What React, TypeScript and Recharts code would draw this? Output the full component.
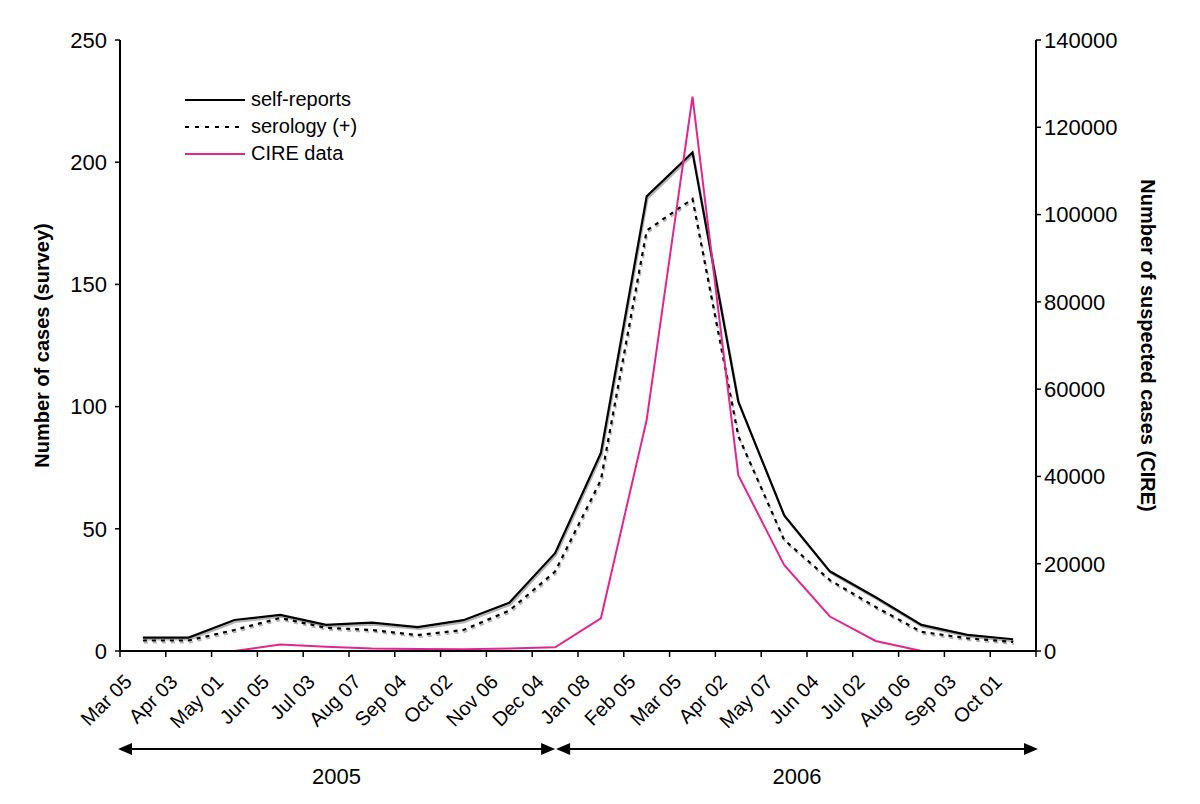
import { LineChart, Line, XAxis, YAxis, Legend } from "recharts";

const FONT = "'Liberation Sans', Arial, Helvetica, sans-serif";
const PINK = "#e3268f";
const SHADOW = "#b4b4b4";

// fortnight labels along the x axis (2005 -> 2006)
const months = [
  "Mar 05", "Apr 03", "May 01", "Jun 05", "Jul 03", "Aug 07", "Sep 04", "Oct 02", "Nov 06", "Dec 04",
  "Jan 08", "Feb 05", "Mar 05", "Apr 02", "May 07", "Jun 04", "Jul 02", "Aug 06", "Sep 03", "Oct 01",
];

// survey, left axis
const selfReports = [5.5, 5.5, 12.7, 14.8, 10.7, 11.6, 9.8, 12.6, 19.7, 40, 81, 186, 204, 102, 55.6, 32.6, 22, 10.7, 6.6, 4.8];
const serology = [4.3, 4.3, 8.6, 13.5, 9.5, 8.6, 6.5, 8.6, 16.5, 32.5, 70, 172, 185, 88, 45.5, 29, 18, 7.8, 5.2, 3.7];

// CIRE surveillance, right axis
const cireCases = [0, 0, 0, 1500, 1000, 600, 450, 380, 600, 850, 7500, 53000, 127000, 40300, 19700, 7900, 2300, 0, 0, 0];

const leftTicks = [0, 50, 100, 150, 200, 250];
const rightTicks = [0, 20000, 40000, 60000, 80000, 100000, 120000, 140000];
const years = ["2005", "2006"];
const yearBreak = 9.5; // on the x scale, where 2005 ends

const W = 1200;
const H = 804;
const PLOT = { left: 120, right: 1036, top: 40, bottom: 651 };

const data = months.map((m, i) => ({
  x: i + 0.5,
  month: m,
  self: selfReports[i],
  sero: serology[i],
  cire: cireCases[i],
}));

const xTicks = Array.from({ length: months.length + 1 }, (_, i) => i);

function MonthTick(props: any) {
  const { x, y, payload } = props;
  const label = months[payload.value] ?? "";
  const ax = x + 13;
  const ay = y + 24;
  return (
    <text
      x={ax}
      y={ay}
      transform={`rotate(-45 ${ax} ${ay})`}
      textAnchor="end"
      fontSize={20}
      fontFamily={FONT}
      fill="#000"
    >
      {label}
    </text>
  );
}

function LegendBox() {
  const rows = [
    { name: "self-reports", color: "#000", dash: undefined },
    { name: "serology (+)", color: "#000", dash: "4 6" },
    { name: "CIRE data", color: PINK, dash: undefined },
  ];
  return (
    <div style={{ fontFamily: FONT, fontSize: 20, lineHeight: "27px", color: "#000" }}>
      {rows.map((r) => (
        <div key={r.name} style={{ display: "flex", alignItems: "center", height: 27 }}>
          <svg width={64} height={10} style={{ marginRight: 2 }}>
            <line x1={0} y1={5} x2={60} y2={5} stroke={r.color} strokeWidth={2} strokeDasharray={r.dash} />
          </svg>
          <span>{r.name}</span>
        </div>
      ))}
    </div>
  );
}

function YearArrows() {
  const unit = (PLOT.right - PLOT.left) / months.length;
  const spans = [
    { label: years[0], from: PLOT.left, to: PLOT.left + yearBreak * unit - 2 },
    { label: years[1], from: PLOT.left + yearBreak * unit + 3, to: PLOT.right },
  ];
  const y = 749;
  return (
    <svg width={W} height={H} style={{ position: "absolute", left: 0, top: 0, pointerEvents: "none" }}>
      {spans.map((s) => (
        <g key={s.label}>
          <line x1={s.from + 8} y1={y} x2={s.to - 8} y2={y} stroke="#000" strokeWidth={2} />
          <polygon points={`${s.from - 2},${y} ${s.from + 12},${y - 6} ${s.from + 12},${y + 6}`} fill="#000" />
          <polygon points={`${s.to + 2},${y} ${s.to - 12},${y - 6} ${s.to - 12},${y + 6}`} fill="#000" />
          <text x={(s.from + s.to) / 2} y={784} textAnchor="middle" fontSize={22} fontFamily={FONT} fill="#000">
            {s.label}
          </text>
        </g>
      ))}
    </svg>
  );
}

export default function App() {
  const tickStyle = { fontSize: 22, fontFamily: FONT, fill: "#000" };
  return (
    <div style={{ position: "absolute", left: 0, top: 0, width: W, height: H, background: "#fff" }}>
      <style>{`.shade { transform: translate(1px, 2px); }`}</style>
      <LineChart width={W} height={H} data={data} margin={{ top: PLOT.top, right: 0, bottom: 0, left: 0 }}>
        <XAxis
          dataKey="x"
          type="number"
          domain={[0, months.length]}
          ticks={xTicks}
          interval={0}
          height={H - PLOT.bottom}
          tick={<MonthTick />}
          tickSize={6}
          stroke="#000"
          strokeWidth={2}
          tickLine={{ stroke: "#000", strokeWidth: 1.5 }}
        />
        <YAxis
          yAxisId="left"
          domain={[0, 250]}
          ticks={leftTicks}
          width={PLOT.left}
          tick={tickStyle}
          tickSize={5}
          tickMargin={8}
          stroke="#000"
          strokeWidth={2}
          tickLine={{ stroke: "#000", strokeWidth: 1.5 }}
          label={{
            value: "Number of cases (survey)",
            angle: -90,
            position: "center",
            dx: -18,
            style: { fontSize: 20, fontWeight: "bold", fontFamily: FONT, fill: "#000" },
          }}
        />
        <YAxis
          yAxisId="right"
          orientation="right"
          domain={[0, 140000]}
          ticks={rightTicks}
          width={W - PLOT.right}
          tick={tickStyle}
          tickSize={5}
          tickMargin={3}
          stroke="#000"
          strokeWidth={2}
          tickLine={{ stroke: "#000", strokeWidth: 1.5 }}
          label={{
            value: "Number of suspected cases (CIRE)",
            angle: 90,
            position: "center",
            dx: 30,
            style: { fontSize: 20, fontWeight: "bold", fontFamily: FONT, fill: "#000" },
          }}
        />
        <Legend
          layout="vertical"
          align="center"
          verticalAlign="middle"
          wrapperStyle={{ left: 185, top: 86, width: 220 }}
          content={<LegendBox />}
        />
        {/* soft grey drop shadows under the survey lines */}
        <Line yAxisId="left" className="shade" dataKey="self" stroke={SHADOW} strokeWidth={2} dot={false} isAnimationActive={false} legendType="none" />
        <Line yAxisId="left" className="shade" dataKey="sero" stroke={SHADOW} strokeWidth={2} strokeDasharray="4 5" dot={false} isAnimationActive={false} legendType="none" />
        <Line yAxisId="left" dataKey="self" name="self-reports" stroke="#000" strokeWidth={2.2} dot={false} isAnimationActive={false} />
        <Line yAxisId="left" dataKey="sero" name="serology (+)" stroke="#000" strokeWidth={2.2} strokeDasharray="4 5" dot={false} isAnimationActive={false} />
        <Line yAxisId="right" dataKey="cire" name="CIRE data" stroke={PINK} strokeWidth={2} dot={false} isAnimationActive={false} />
      </LineChart>
      <YearArrows />
    </div>
  );
}
